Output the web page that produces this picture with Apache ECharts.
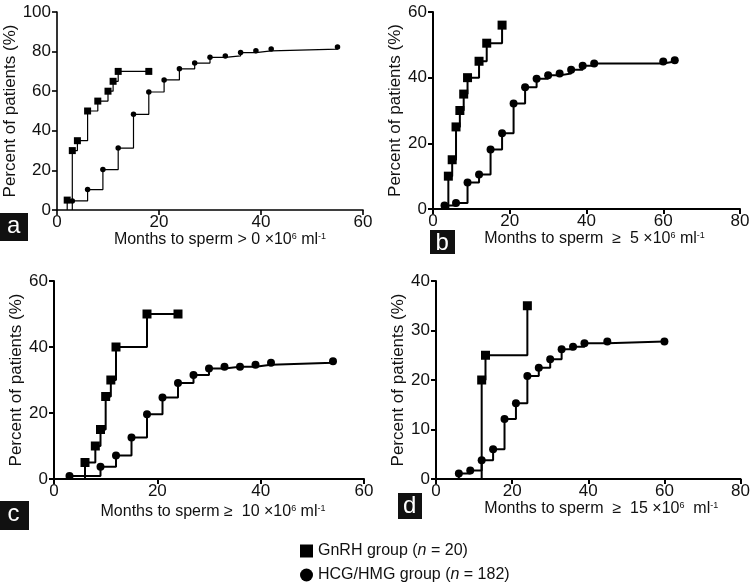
<!DOCTYPE html>
<html>
<head>
<meta charset="utf-8">
<script src="https://cdn.jsdelivr.net/npm/echarts@6/dist/echarts.min.js"></script>
<style>
html,body{margin:0;padding:0;background:#fff;}
#chart{width:753px;height:585px;}
</style>
</head>
<body>
<div id="chart"></div>
<script>
// Panel a: sperm > 0
const aGnRHMonths = [2, 3, 4, 6, 8, 10, 11, 12, 18];
const aGnRHPct    = [5, 30, 35, 50, 55, 60, 65, 70, 70];
const aHcgMonths  = [3, 6, 9, 12, 15, 18, 21, 24, 27, 30, 33, 36, 39, 42, 55];
const aHcgPct     = [4.6, 10.3, 20.4, 31.3, 48.3, 59.6, 65.7, 71.3, 74.2, 77.1, 77.8, 79.5, 80.4, 81.3, 82.3];
// Panel b: sperm >= 5
const bGnRHMonths = [4, 5, 6, 7, 8, 9, 12, 14, 18];
const bGnRHPct    = [10, 15, 25, 30, 35, 40, 45, 50.5, 56];
const bHcgMonths  = [3, 6, 9, 12, 15, 18, 21, 24, 27, 30, 33, 36, 39, 42, 60, 63];
const bHcgPct     = [1.1, 1.8, 8.1, 10.5, 18.1, 23.1, 32.1, 37.1, 39.7, 40.7, 41.3, 42.4, 43.6, 44.3, 44.9, 45.3];
// Panel c: sperm >= 10
const cGnRHMonths = [6, 8, 9, 10, 11, 12, 18, 24];
const cGnRHPct    = [5, 10, 15, 25, 30, 40, 50, 50];
const cHcgMonths  = [3, 9, 12, 15, 18, 21, 24, 27, 30, 33, 36, 39, 42, 54];
const cHcgPct     = [0.9, 3.7, 7.1, 12.6, 19.6, 24.7, 29.1, 31.5, 33.5, 34.0, 34.0, 34.6, 35.2, 35.7];
// Panel d: sperm >= 15
const dGnRHMonths = [12, 13, 24];
const dGnRHPct    = [20, 25, 35];
const dHcgMonths  = [6, 9, 12, 15, 18, 21, 24, 27, 30, 33, 36, 39, 45, 60];
const dHcgPct     = [1.1, 1.7, 3.8, 6.0, 12.1, 15.3, 20.8, 22.5, 24.2, 26.2, 26.7, 27.4, 27.8, 27.8];

const xMax = [60, 80, 60, 80];
const yMax = [100, 60, 60, 40];
const yInterval = [20, 20, 20, 10];
const panelLetters = ['a', 'b', 'c', 'd'];
const xNames = [
  'Months to sperm > 0 ×10{s|6} ml{s|-1}',
  'Months to sperm  ≥  5 ×10{s|6} ml{s|-1}',
  'Months to sperm ≥  10 ×10{s|6} ml{s|-1}',
  'Months to sperm  ≥  15 ×10{s|6}  ml{s|-1}'
];
const yName = 'Percent of patients (%)';
const legendNames = ['GnRH', 'HCG'];

const FONT = '"Liberation Sans", Arial, Helvetica, sans-serif';

const grids = [
  {left: 57, right: 390, top: 12, bottom: 375},
  {left: 433, right: 13, top: 12, bottom: 376},
  {left: 54, right: 389, top: 281, bottom: 106},
  {left: 436, right: 8, top: 281, bottom: 106}
];
const lineW = [1.2, 2, 2, 2];
const axisW = [1.6, 2, 2, 2];
const sqSize = [7, 9, 9, 9];
const ciSize = [5.5, 8, 8, 8];
const xNameGap = [15, 18, 25, 10];
const xNamePad = [[0,0,0,20], [0,0,0,16], [0,0,0,8], [0,0,0,26]];
const yNameGap = [25, 25, 24, 27];

function km(months, pct) {
  const pts = [[months[0], 0, false]];
  for (let i = 0; i < months.length; i++) pts.push([months[i], pct[i], true]);
  return pts.map(p => ({value: [p[0], p[1]], symbol: p[2] ? undefined : 'none'}));
}

const seriesData = [
  [aGnRHMonths, aGnRHPct, aHcgMonths, aHcgPct],
  [bGnRHMonths, bGnRHPct, bHcgMonths, bHcgPct],
  [cGnRHMonths, cGnRHPct, cHcgMonths, cHcgPct],
  [dGnRHMonths, dGnRHPct, dHcgMonths, dHcgPct]
];

const xAxis = [], yAxis = [], series = [];
for (let i = 0; i < 4; i++) {
  xAxis.push({
    type: 'value', gridIndex: i, min: 0, max: xMax[i], interval: 20,
    splitLine: {show: false},
    axisLine: {show: true, onZero: false, lineStyle: {color: '#000', width: axisW[i]}},
    axisTick: {show: true, length: 5, lineStyle: {color: '#000', width: axisW[i]}},
    axisLabel: {color: '#111', fontSize: 17, fontFamily: FONT, margin: 4},
    name: xNames[i], nameLocation: 'middle', nameGap: xNameGap[i],
    nameTextStyle: {
      color: '#111', fontSize: 16, fontFamily: FONT, padding: xNamePad[i],
      verticalAlign: 'top',
      rich: {s: {fontSize: 9, fontFamily: FONT, color: '#111', verticalAlign: 'top', padding: [0, 0, 6, 0]}}
    }
  });
  yAxis.push({
    type: 'value', gridIndex: i, min: 0, max: yMax[i], interval: yInterval[i],
    splitLine: {show: false},
    axisLine: {show: true, lineStyle: {color: '#000', width: axisW[i]}},
    axisTick: {show: true, length: 5, lineStyle: {color: '#000', width: axisW[i]}},
    axisLabel: {color: '#111', fontSize: 17, fontFamily: FONT, margin: 6},
    name: yName, nameLocation: 'middle', nameGap: yNameGap[i],
    nameTextStyle: {color: '#111', fontSize: 17, fontFamily: FONT}
  });
  const d = seriesData[i];
  series.push({
    name: legendNames[0], type: 'line', xAxisIndex: i, yAxisIndex: i, step: 'end',
    data: km(d[0], d[1]), symbol: 'rect', symbolSize: sqSize[i],
    itemStyle: {color: '#000'}, lineStyle: {color: '#000', width: lineW[i]},
    animation: false, z: 3
  });
  series.push({
    name: legendNames[1], type: 'line', xAxisIndex: i, yAxisIndex: i, step: 'end',
    data: km(d[2], d[3]), symbol: 'circle', symbolSize: ciSize[i],
    itemStyle: {color: '#000'}, lineStyle: {color: '#000', width: lineW[i]},
    animation: false, z: 2
  });
}

const letterBoxes = [
  {x: 0, y: 213, w: 28, h: 28},
  {x: 430, y: 230, w: 25, h: 24},
  {x: 0, y: 501, w: 29, h: 29},
  {x: 398, y: 493, w: 24, h: 26}
];
const graphic = [];
letterBoxes.forEach((b, i) => {
  graphic.push({type: 'rect', left: b.x, top: b.y, shape: {width: b.w, height: b.h}, style: {fill: '#111'}});
  graphic.push({type: 'text', left: b.x + b.w / 2 - 7, top: b.y + 1,
    style: {text: panelLetters[i], fill: '#fff', font: '24px ' + FONT}});
});

const legendLabels = {
  GnRH: '{t|GnRH group (}{i|n}{t| = 20)}',
  HCG: '{t|HCG/HMG group (}{i|n}{t| = 182)}'
};
const legendText = {
  color: '#111', fontSize: 16, fontFamily: FONT,
  rich: {
    t: {fontSize: 16, fontFamily: FONT, color: '#111'},
    i: {fontSize: 16, fontFamily: FONT, color: '#111', fontStyle: 'italic'}
  }
};
const legends = [
  {name: 'GnRH', icon: 'rect', top: 538},
  {name: 'HCG', icon: 'circle', top: 562}
].map(l => ({
  left: 295, top: l.top, itemWidth: 13, itemHeight: 13, selectedMode: false,
  data: [{name: l.name, icon: l.icon}],
  formatter: n => legendLabels[n],
  textStyle: legendText
}));

const chart = echarts.init(document.getElementById('chart'), null, {renderer: 'canvas'});
chart.setOption({
  backgroundColor: '#fff',
  animation: false,
  grid: grids,
  xAxis: xAxis,
  yAxis: yAxis,
  series: series,
  graphic: graphic,
  legend: legends
});
</script>
</body>
</html>
